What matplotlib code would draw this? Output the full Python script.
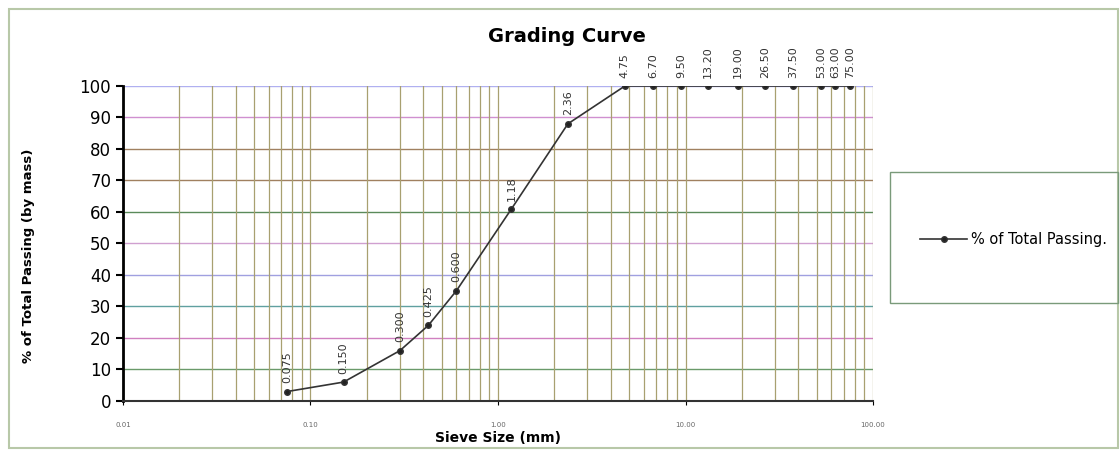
import numpy as np
import matplotlib.pyplot as plt
from matplotlib.ticker import FixedLocator, NullFormatter
from matplotlib.patches import Rectangle

# sieve data
sieve_size = [0.075, 0.150, 0.300, 0.425, 0.600, 1.18, 2.36, 4.75, 6.70, 9.50,
              13.20, 19.00, 26.50, 37.50, 53.00, 63.00, 75.00]
sieve_label = ["0.075", "0.150", "0.300", "0.425", "0.600", "1.18", "2.36", "4.75",
               "6.70", "9.50", "13.20", "19.00", "26.50", "37.50", "53.00", "63.00", "75.00"]
passing = [3, 6, 16, 24, 35, 61, 88, 100, 100, 100, 100, 100, 100, 100, 100, 100, 100]

xticks = [0.01, 0.1, 1, 10, 100]
xtick_labels = ["0.01", "0.10", "1.00", "10.00", "100.00"]
yticks = list(range(0, 101, 10))

fig = plt.figure(figsize=(11.2, 4.5), dpi=100)
ax = fig.add_axes([0.1098, 0.1089, 0.6697, 0.7000])

# outer border of the chart
fig.patches.append(Rectangle((0.008, 0.005), 0.99, 0.975, transform=fig.transFigure,
                             fill=False, edgecolor='#b8c8a8', linewidth=1.5))
# legend box
fig.patches.append(Rectangle((890 / 1120, 1 - 303 / 450), 228 / 1120, 131 / 450,
                             transform=fig.transFigure, fill=False,
                             edgecolor='#7a9a7a', linewidth=1.0))

ax.set_xscale('log')
ax.set_xlim(0.01, 100)
ax.set_ylim(0, 100)

# grid
minor = [m * 10.0 ** e for e in range(-2, 2) for m in range(2, 10)]
ax.xaxis.set_minor_locator(FixedLocator(minor))
ax.xaxis.set_minor_formatter(NullFormatter())
ax.grid(True, which='minor', axis='x', color='#a8a070', linewidth=0.9)
ax.grid(True, which='major', axis='x', color='#a8a070', linewidth=0.9)
hcolors = ['#8080e0', '#6a9a6a', '#d080c0', '#60a0a0', '#a0a0e0', '#d0a0d0',
           '#5a8a5a', '#a08060', '#a08060', '#d090d0', '#b0b0f0']
for y, c in zip(yticks, hcolors):
    ax.axhline(y, color=c, linewidth=1.0, zorder=0.5)

ax.plot(sieve_size, passing, '-o', color='#333333', markersize=4, linewidth=1.2,
        markerfacecolor='#222222', label='% of Total Passing.', zorder=3)

for xs, yp, lab in zip(sieve_size, passing, sieve_label):
    ax.annotate(lab, (xs, yp), xytext=(0, 6), textcoords='offset points',
                rotation=90, ha='center', va='bottom', fontsize=8, color='#333333',
                annotation_clip=False)

ax.set_xticks(xticks)
ax.set_xticklabels(xtick_labels, fontsize=5, color='#666666')
ax.tick_params(axis='x', which='major', length=3, pad=12)
ax.tick_params(axis='x', which='minor', length=0)
ax.set_yticks(yticks)
ax.tick_params(axis='y', labelsize=12, length=5, width=1.5, color='black')

for s in ['top', 'right']:
    ax.spines[s].set_visible(False)
ax.spines['left'].set_linewidth(2)
ax.spines['bottom'].set_linewidth(1.5)
ax.spines['bottom'].set_color('#333333')

fig.text(567 / 1120, 1 - 36 / 450, "Grading Curve", fontsize=14, fontweight='bold',
         ha='center', va='center')
ax.set_xlabel("Sieve Size (mm)", fontsize=10, fontweight='bold', labelpad=2)
ax.set_ylabel("% of Total Passing (by mass)", fontsize=9.5, fontweight='bold')
ax.yaxis.set_label_coords(-0.117, 0.46)

leg = fig.legend(loc='center left', bbox_to_anchor=(0.81, 0.467), fontsize=10.5,
                 frameon=False, handlelength=3.2, handletextpad=0.3)

fig.savefig("out.png", dpi=100)
